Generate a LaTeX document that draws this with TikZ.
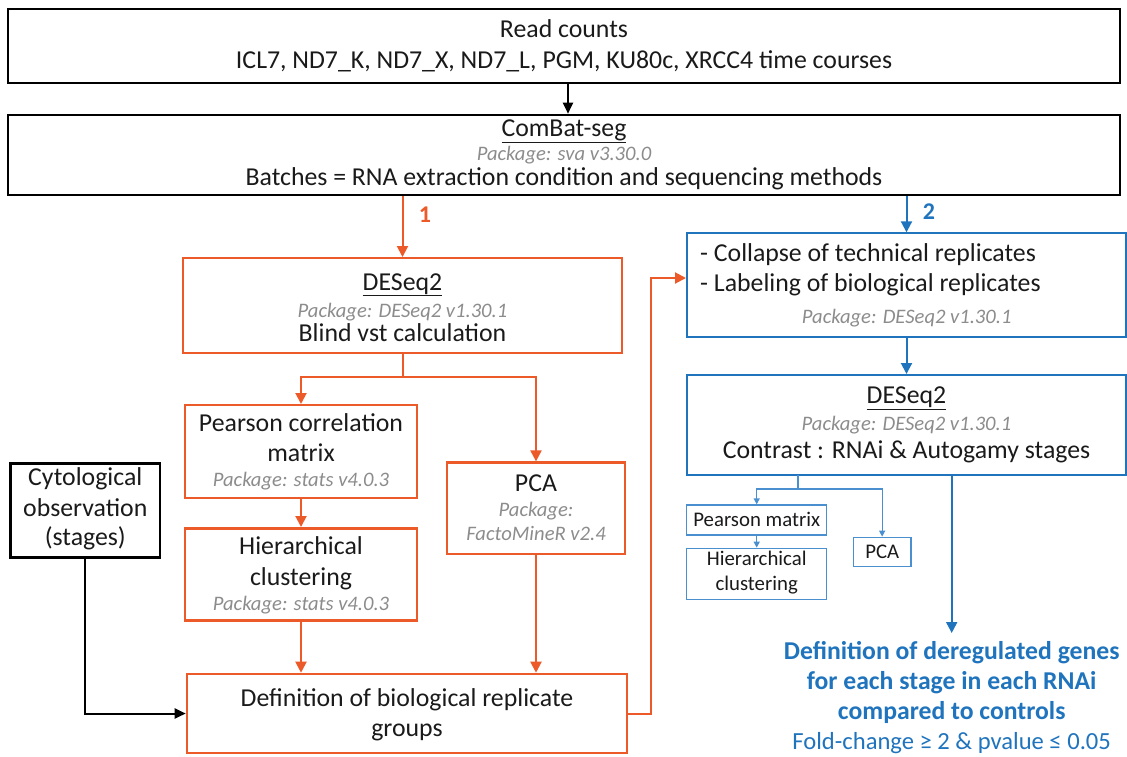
\documentclass[tikz,border=0pt]{standalone}
\usepackage{fontspec}
\setmainfont{Carlito}
\usetikzlibrary{arrows.meta,fit}
\definecolor{orng}{HTML}{EB5A28}
\definecolor{blu}{HTML}{1F74BD}
\definecolor{lblu}{HTML}{4A90D0}
\definecolor{pkg}{HTML}{8C8C8C}
\definecolor{txt}{HTML}{1A1A1A}
\begin{document}
\begin{tikzpicture}[x=1pt,y=-1pt,
  every node/.style={inner sep=0pt},
  mt/.style={anchor=base, font=\fontsize{25.8}{30}\selectfont, text=txt},
  pk/.style={anchor=base, font=\fontsize{20.6}{24}\selectfont\itshape, text=pkg},
  st/.style={anchor=base, font=\fontsize{20.8}{24}\selectfont, text=txt},
  kbox/.style={draw=black, line width=2.6pt},
  obox/.style={draw=orng, line width=2pt},
  obold/.style={draw=orng, line width=2.6pt},
  bbox/.style={draw=blu, line width=2pt},
  sbox/.style={draw=lblu, line width=1.3pt},
  karr/.style={draw=black, line width=2pt, -{Triangle[length=11pt,width=10pt]}},
  oarr/.style={draw=orng, line width=2pt, -{Triangle[length=11pt,width=11pt]}},
  barr/.style={draw=blu, line width=2pt, -{Triangle[length=11pt,width=11pt]}},
  sarr/.style={draw=lblu, line width=1.3pt, -{Triangle[length=6pt,width=6pt]}},
  lbl/.style={font=\fontsize{24}{28}\selectfont\bfseries}
]
\useasboundingbox (0,0) rectangle (1127,756);

% ---- input and batch correction ----
\node[kbox, fit={(8,9) (1120,83)}] (rc) {};
\node[mt] (rc1) at (564,37.7) {Read counts};
\node[mt] (rc2) at (564,68.3) {ICL7, ND7\_K, ND7\_X, ND7\_L, PGM, KU80c, XRCC4 time courses};

\node[kbox, fit={(8,115) (1120,195)}] (cb) {};
\node[mt] (cb1) at (564,136.7) {\underline{ComBat-seg}};
\node[pk] (cb2) at (564,160) {Package: sva v3.30.0};
\node[mt] (cb3) at (564,185.7) {Batches = RNA extraction condition and sequencing methods};

% ---- branch 1 (orange) ----
\node[obox, fit={(183,258) (622,353)}] (da) {};
\node[mt] (da1) at (402.5,290) {\underline{DESeq2}};
\node[pk] (da2) at (402.5,317.5) {Package: DESeq2 v1.30.1};
\node[mt] (da3) at (402.5,341.5) {Blind vst calculation};

\node[obox, fit={(185,405) (417,498)}] (pe) {};
\node[mt] (pe1) at (301,431.7) {Pearson correlation};
\node[mt] (pe2) at (301,461.7) {matrix};
\node[pk] (pe3) at (301,486.7) {Package: stats v4.0.3};

\node[obold, fit={(185,528.3) (417,620.7)}] (hc) {};
\node[mt] (hc1) at (301,554) {Hierarchical};
\node[mt] (hc2) at (301,585) {clustering};
\node[pk] (hc3) at (301,610) {Package: stats v4.0.3};

\node[obold, fit={(447,462.7) (625,554)}] (pca) {};
\node[mt] (pca1) at (536,491.7) {PCA};
\node[pk] (pca2) at (536,516.7) {Package:};
\node[pk] (pca3) at (536,540) {FactoMineR v2.4};

\node[kbox, fit={(10.5,463.3) (160,557.7)}] (cy) {};
\node[mt] (cy1) at (85.3,485) {Cytological};
\node[mt] (cy2) at (85.3,516.7) {observation};
\node[mt] (cy3) at (85.3,545.5) {(stages)};

\node[obold, fit={(187,674) (627,753)}] (df) {};
\node[mt] (df1) at (407,706) {Definition of biological replicate};
\node[mt] (df2) at (407,736.7) {groups};

% ---- branch 2 (blue) ----
\node[bbox, fit={(687,233.3) (1126,336.7)}] (cl) {};
\node[mt, anchor=base west] (cl1) at (700,261) {- Collapse of technical replicates};
\node[mt, anchor=base west] (cl2) at (700,291.7) {- Labeling of biological replicates};
\node[pk] (cl3) at (906.7,323.3) {Package: DESeq2 v1.30.1};

\node[bbox, fit={(687,375) (1126,475)}] (db) {};
\node[mt] (db1) at (906.5,403.3) {\underline{DESeq2}};
\node[pk] (db2) at (906.5,430) {Package: DESeq2 v1.30.1};
\node[mt] (db3) at (906.5,458.3) {Contrast : RNAi \& Autogamy stages};

\node[sbox, fit={(686.7,505) (826.7,535)}] (pm) {};
\node[st] (pm1) at (756.7,526.7) {Pearson matrix};
\node[sbox, fit={(686.7,548.3) (826.7,599.3)}] (sh) {};
\node[st] (sh1) at (756.7,565) {Hierarchical};
\node[st] (sh2) at (756.7,590) {clustering};
\node[sbox, fit={(853.3,537.3) (911,566.7)}] (sp) {};
\node[st] (sp1) at (882.2,558.3) {PCA};

\node[anchor=north, align=center, text=blu,
      font=\fontsize{25.7}{30.2}\selectfont] (res) at (951.7,641)
  {\textbf{Definition of deregulated genes}\\
   \textbf{for each stage in each RNAi}\\
   \textbf{compared to controls}\\
   {\fontsize{24.6}{30.2}\selectfont Fold-change ≥ 2 \& pvalue ≤ 0.05}};

% ---- connectors ----
\draw[karr] (rc.south -| 568,0) -- (cb.north -| 568,0);

\draw[oarr] (cb.south -| da.north) -- (da.north);
\node[lbl, text=orng] (n1) at (425,215) {1};
\draw[barr] (cb.south -| cl.north) -- (cl.north);
\node[lbl, text=blu] (n2) at (929,212) {2};

\draw[oarr] (da.south) -- ++(0,23) -| (pe.north);
\draw[oarr] (da.south) -- ++(0,23) -| (pca.north);
\draw[oarr] (pe) -- (hc);
\draw[oarr] (hc.south) -- (hc.south |- df.north);
\draw[oarr] (pca.south) -- (pca.south |- df.north);
\draw[karr] (cy.south) |- (df.west);
\draw[oarr] (df.east) -- ++(23,0) |- ([yshift=7pt]cl.west);

\draw[barr] (cl) -- (db);
\coordinate (tap) at (798,475);
\draw[sarr] (tap) -- ++(0,14) -| (pm.north);
\draw[sarr] (tap) -- ++(0,14) -| (sp.north);
\draw[sarr] (pm) -- (sh);
\draw[barr] (res.north |- db.south) -- ([yshift=8pt]res.north);
\end{tikzpicture}
\end{document}
